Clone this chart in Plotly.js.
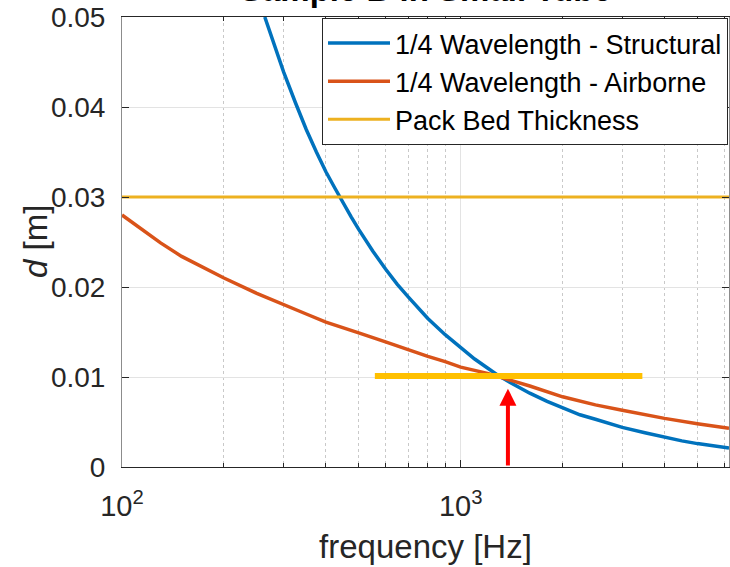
<!DOCTYPE html>
<html>
<head>
<meta charset="utf-8">
<script src="https://cdn.plot.ly/plotly-3.0.1.min.js"></script>
<style>
  html, body { margin: 0; padding: 0; background: #ffffff; }
  #chart { width: 730px; height: 567px; }
</style>
</head>
<body>
<div id="chart"></div>
<script>
// Quarter-wavelength depth versus frequency, structural and airborne paths
const structFreq  = [264, 280, 300, 325, 350, 375, 400, 425, 450, 475, 500, 550, 600, 650, 700, 750, 800, 900, 1000,
                     1100, 1200, 1300, 1400, 1500, 1600, 1800, 2000, 2250, 2500, 2750, 3000, 3500, 4000, 4500, 5000, 5600, 6200];
const structDepth = [0.0500, 0.0472, 0.0439, 0.0405, 0.0375, 0.0350, 0.0328, 0.0310, 0.0293, 0.0278, 0.0264, 0.0240, 0.0220, 0.0203, 0.0189, 0.0176, 0.0165, 0.0147, 0.0133,
                     0.0120, 0.0110, 0.0101, 0.0094, 0.0088, 0.0082, 0.0073, 0.0066, 0.0058, 0.0053, 0.0048, 0.0044, 0.0038, 0.0033, 0.0029, 0.0026, 0.0023, 0.0021];

const airFreq  = [100, 115, 130, 150, 175, 200, 250, 300, 350, 400, 450, 500, 600, 700, 800, 900, 1000,
                  1200, 1400, 1600, 2000, 2500, 3000, 3500, 4000, 5000, 6200];
const airDepth = [0.0280, 0.0263, 0.0249, 0.0234, 0.0221, 0.0210, 0.0193, 0.0180, 0.0170, 0.0161, 0.0155, 0.0149, 0.0139, 0.0130, 0.0123, 0.0117, 0.0111,
                  0.0104, 0.0097, 0.0090, 0.0078, 0.0069, 0.0063, 0.0058, 0.0054, 0.0048, 0.0043];

// Pack bed thickness across the whole band
const bedFreq  = [100, 6200];
const bedDepth = [0.03, 0.03];

// Quarter-wavelength band of interest
const bandFreq  = [558, 3440];
const bandDepth = [0.0101, 0.0101];

// Crossover marker
const arrowFreq = [1379];
const arrowTip  = [0.0087];

// Axis ticks
const yTickVals  = [0, 0.01, 0.02, 0.03, 0.04, 0.05];
const yTickText  = ['0', '0.01', '0.02', '0.03', '0.04', '0.05'];
const xTickVals  = [100, 1000];
const xTickText  = ['10<sup>2</sup>', '10<sup>3</sup>'];
const xMinorVals = [200, 300, 400, 500, 600, 700, 800, 900, 2000, 3000, 4000, 5000, 6000];

const FONT = 'Liberation Sans, Arial, Helvetica, sans-serif';
const INK = '#262626';

const traces = [
  {
    x: structFreq, y: structDepth, type: 'scatter', mode: 'lines',
    name: '1/4 Wavelength - Structural',
    line: { color: '#0072BD', width: 3.5 }
  },
  {
    x: airFreq, y: airDepth, type: 'scatter', mode: 'lines',
    name: '1/4 Wavelength - Airborne',
    line: { color: '#D95319', width: 3.5 }
  },
  {
    x: bedFreq, y: bedDepth, type: 'scatter', mode: 'lines',
    name: 'Pack Bed Thickness',
    line: { color: '#EDB120', width: 3.2 }
  },
  {
    x: bandFreq, y: bandDepth, type: 'scatter', mode: 'lines',
    showlegend: false, hoverinfo: 'skip',
    line: { color: '#FFC000', width: 6 }
  }
];

const layout = {
  width: 730, height: 567,
  margin: { l: 122, r: 1, t: 17, b: 100, pad: 0 },
  paper_bgcolor: '#ffffff', plot_bgcolor: '#ffffff',
  font: { family: FONT, color: INK, size: 28 },
  showlegend: true,
  xaxis: {
    type: 'log',
    range: [2, Math.log10(6200)],
    tickmode: 'array', tickvals: xTickVals, ticktext: xTickText,
    ticks: 'inside', ticklen: 7, tickwidth: 1, tickcolor: INK,
    ticklabelstandoff: 13,
    tickfont: { family: FONT, size: 29, color: INK },
    showline: true, linecolor: INK, linewidth: 1, mirror: 'ticks',
    showgrid: true, gridcolor: '#e3e3e3', gridwidth: 1,
    minor: {
      tickmode: 'array', tickvals: xMinorVals,
      ticks: 'inside', ticklen: 4, tickcolor: INK,
      showgrid: true, gridcolor: '#c9c9c9', griddash: 'dot', gridwidth: 1
    },
    zeroline: false,
    title: { text: 'frequency [Hz]', font: { family: FONT, size: 33, color: INK }, standoff: 14 }
  },
  yaxis: {
    range: [0, 0.05],
    tickmode: 'array', tickvals: yTickVals, ticktext: yTickText,
    ticks: 'inside', ticklen: 7, tickwidth: 1, tickcolor: INK,
    ticklabelstandoff: 10,
    tickfont: { family: FONT, size: 28, color: INK },
    showline: true, linecolor: '#8c8c8c', linewidth: 1, mirror: 'ticks',
    showgrid: true, gridcolor: '#e3e3e3', gridwidth: 1,
    zeroline: false
  },
  legend: {
    x: 1 - 1 / 607, xanchor: 'right', xref: 'paper',
    y: 1 - 1 / 450, yanchor: 'top', yref: 'paper',
    bgcolor: '#ffffff', bordercolor: INK, borderwidth: 1,
    font: { family: FONT, size: 27, color: '#000000' },
    itemwidth: 62, tracegroupgap: 0
  },
  annotations: [
    {
      // chart title, sitting right against the top of the plot box
      xref: 'paper', yref: 'paper', x: 0.5, y: 1,
      xanchor: 'center', yanchor: 'bottom', yshift: 7,
      text: '<b>Sample B in Small Tube</b>', showarrow: false,
      font: { family: FONT, size: 33, color: '#000000' }
    },
    {
      // y-axis label, set just left of the tick labels
      xref: 'paper', yref: 'paper',
      x: -(122 - 35) / 607, y: 0.5,
      xanchor: 'center', yanchor: 'middle',
      text: '<i>d</i> [m]', textangle: -90, showarrow: false,
      font: { family: FONT, size: 33, color: INK }
    },
    {
      // arrow rising from the axis to the crossover point
      xref: 'x', yref: 'y', axref: 'x', ayref: 'y',
      x: Math.log10(arrowFreq[0]), y: arrowTip[0],
      ax: Math.log10(arrowFreq[0]), ay: 0,
      text: '', showarrow: true,
      arrowhead: 2, arrowsize: 0.85, arrowwidth: 4, arrowcolor: '#FF0000',
      standoff: 0, startstandoff: 0
    }
  ]
};

Plotly.newPlot('chart', traces, layout, { displayModeBar: false, staticPlot: true });
</script>
</body>
</html>
